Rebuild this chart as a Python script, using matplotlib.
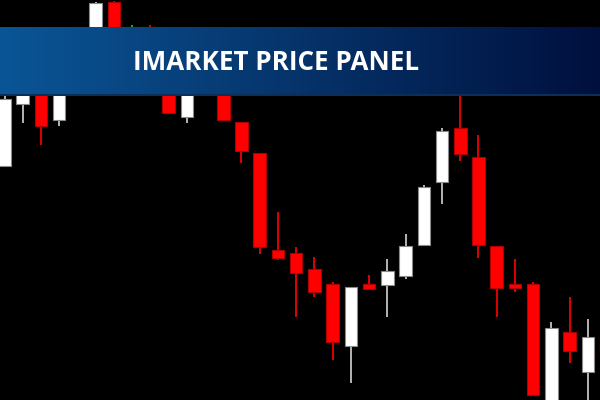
import numpy as np
import matplotlib.pyplot as plt
from matplotlib.colors import LinearSegmentedColormap

# candle data (price points), left to right
opens = [2134, 2196, 2228, 2180, 2215, 2250, 2298, 2260, 2255, 2225,
         2183, 2230, 2225, 2178, 2147, 2050, 2047, 2031, 2016, 1954,
         2016, 2015, 2024, 2055, 2118, 2172, 2143, 2054, 2016, 2016,
         1895, 1968, 1928, 1965]
closes = [2201, 2230, 2174, 2240, 2255, 2297, 2273, 2260, 2230, 2187,
          2215, 2210, 2180, 2149, 2053, 2042, 2027, 2008, 1958, 2013,
          2011, 2029, 2054, 2113, 2169, 2146, 2055, 2012, 2012, 1905,
          1972, 1949, 1963, 1945]
highs = [2208, 2235, 2232, 2245, 2262, 2298, 2299, 2275, 2275, 2230,
         2220, 2240, 2230, 2178, 2147, 2088, 2053, 2043, 2018, 2013,
         2025, 2041, 2066, 2115, 2172, 2210, 2165, 2054, 2041, 2018,
         1978, 2003, 1981, 1970]
lows = [2134, 2177, 2155, 2174, 2210, 2245, 2270, 2245, 2220, 2187,
        2177, 2206, 2180, 2137, 2046, 2040, 1983, 2003, 1940, 1917,
        2011, 1983, 2021, 2055, 2096, 2139, 2042, 1983, 2008, 1905,
        1890, 1937, 1890, 1940]

up_col = "white"
down_col = "#ff0000"
doji_col = "#00c000"

n = len(opens)
idx = np.arange(n)

fig = plt.figure(figsize=(6, 4), dpi=100)
fig.patch.set_facecolor("black")
ax = fig.add_axes([0, 0, 1, 1])
ax.set_facecolor("black")

w = 0.69
for i in range(n):
    o, c, h, l = opens[i], closes[i], highs[i], lows[i]
    if c > o:
        body, edge, wick = up_col, "#8a8a8a", "#b4b4b4"
    elif c < o:
        body, edge, wick = down_col, "#b00000", "#e00000"
    else:
        body, edge, wick = doji_col, doji_col, doji_col
    ax.vlines(i, l, h, color=wick, lw=1.4, zorder=1)
    lo = min(o, c)
    hgt = max(abs(c - o), 1.5)
    ax.bar(i, hgt, bottom=lo, width=w, color=body, edgecolor=edge,
           linewidth=0.8, zorder=2)

step = 18.23
x0 = 4.5
ax.set_xlim(-x0 / step, (600 - x0) / step)
ax.set_ylim(1900, 2300)
ax.axis("off")

# banner with gradient
bax = fig.add_axes([0, 1 - 96 / 400, 1, 69 / 400])
cmap = LinearSegmentedColormap.from_list("banner", ["#0a5596", "#06336a", "#00103e"])
grad = np.linspace(0, 1, 256).reshape(1, -1)
bax.imshow(grad, aspect="auto", cmap=cmap, extent=[0, 1, 0, 1])
bax.axhline(0.01, color="#0b2f58", lw=1.5)
bax.set_xlim(0, 1)
bax.set_ylim(0, 1)
bax.axis("off")
bax.text(276.5 / 600, 0.49, "IMARKET PRICE PANEL", color="white",
         fontsize=18.7, fontweight="bold", family="Open Sans",
         ha="center", va="center")

fig.savefig("out.png", dpi=100, facecolor="black")
